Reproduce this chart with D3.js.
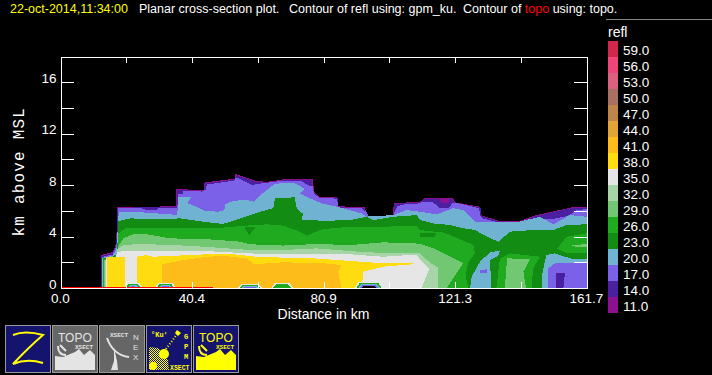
<!DOCTYPE html>
<html>
<head>
<meta charset="utf-8">
<script src="https://cdn.jsdelivr.net/npm/d3@7"></script>
<style>
  html, body { margin: 0; background: #000; overflow: hidden; }
  text { font-family: "Liberation Sans", sans-serif; }
</style>
</head>
<body>
<script>
// legend
var levels = ['59.0', '56.0', '53.0', '50.0', '47.0', '44.0', '41.0', '38.0', '35.0', '32.0', '29.0', '26.0', '23.0', '20.0', '17.0', '14.0', '11.0'];
var levelColors = ['#d0274a', '#f0457a', '#dc6080', '#a87060', '#bd8548', '#e0a535', '#fdbc1a', '#ffdc10', '#e6e6e6', '#a8d5a8', '#72c872', '#20aa20', '#128c12', '#70b2d2', '#7b60e8', '#4a1fa0', '#8c1090'];

// axis ticks
var xTicks = [0, 20.2, 40.4, 60.6, 80.9, 101.1, 121.3, 141.5, 161.7];
var xLabels = [0, 40.4, 80.9, 121.3, 161.7];
var yTicks = [0, 2, 4, 6, 8, 10, 12, 14, 16];

// contour outlines, [distance km, height km], each closed down to the ground
var top11 = [[12.4,0],[12.4,2.56],[14,2.65],[16,2.8],[16.9,3.3],[17.3,4.5],[17.3,6.3],[35.6,6.35],[35.6,7.7],[44,7.6],[44.2,8.2],[53.5,8.5],[53.8,8.85],[60,8.35],[63.4,8.25],[68.5,8.45],[77.5,8.45],[78,7.5],[79.5,7.1],[85,7.05],[85.2,6.35],[93.4,6.3],[94.6,5.6],[102.3,5.6],[102.4,6.6],[110.5,6.7],[112,7],[120.7,7],[121.3,6.66],[128.9,6.32],[129.2,5.67],[135.1,5.2],[141,5.2],[146,5.65],[157.7,6.3],[161.7,6.3],[161.7,0]];
var top14 = [[12.5,0],[12.5,2.48],[14,2.57],[16,2.72],[17,3.25],[17.5,4.5],[17.5,6.25],[35.8,6.28],[35.8,7.62],[44.2,7.52],[44.4,8.12],[53.7,8.42],[54,8.75],[60,8.27],[63.4,8.17],[68.5,8.37],[77.2,8.37],[77.8,7.45],[79.5,7.02],[85.2,6.97],[85.4,6.27],[93.2,6.22],[94.5,5.52],[102.5,5.52],[102.6,6.55],[110.5,6.62],[112,6.95],[120.5,6.95],[121.1,6.6],[129.1,6.25],[129.4,5.6],[135.1,5.12],[141,5.12],[146,5.57],[157.7,6.25],[161.7,6.25],[161.7,0]];
var top17 = [[12.7,0],[12.7,2.4],[14,2.5],[16,2.6],[17.1,3.2],[17.7,4.5],[17.7,6.2],[25,6.2],[26.5,6.05],[29.5,6.05],[30,6.2],[35.9,6.2],[36.2,7.3],[37.5,7.3],[37.8,7.55],[43.6,7.5],[44.6,7.65],[45,8.05],[53.4,8.35],[54,8.6],[57.5,8.2],[59,8],[61,8.1],[64,8.2],[68.5,8.35],[74,8.35],[76,8],[77.5,7.9],[78,7.3],[79.7,7],[85,6.95],[85.4,6.2],[92.6,6.2],[94,5.9],[95,5.5],[102.3,5.5],[102.7,5.9],[103.5,6.35],[106.5,6.55],[109,6.5],[110.5,6.6],[111.5,6.7],[114.6,6.65],[116.6,6.2],[119.2,6.2],[120.7,6.65],[124,6.5],[128.7,6.2],[129,5.6],[130,5.4],[134.6,5.1],[141,5.1],[145.5,5.4],[151,5.35],[155,5.55],[157,5.75],[158,6],[161.7,6.15],[161.7,0]];
var top20 = [[12.8,0],[12.8,2.35],[14,2.4],[16,2.5],[17.2,3],[17.9,5.9],[24,5.9],[35,5.7],[35.9,5.65],[36.2,7.05],[40.3,7.1],[39,6.6],[41.9,6.3],[44.4,6],[48.5,5.93],[50.4,6.06],[50.6,6.5],[53.1,6.78],[57.2,6.85],[59.5,6.7],[61.3,7.2],[65.9,8.1],[71.6,8.2],[75.2,7.7],[73.6,7.35],[76.7,6.97],[80.3,6.58],[85,6.32],[92.6,5.8],[94.1,5.55],[102.3,5.67],[106.4,6.06],[110.5,5.93],[115.6,5.72],[120.7,6.2],[123.8,6.06],[127.4,5.15],[135,5.1],[141,5.15],[147.4,5.54],[151.5,4.95],[156.6,5.67],[161.7,5.54],[161.7,0]];
var top23 = [[13,0],[13,2.3],[14,2.35],[16,2.4],[17.4,2.7],[17.8,5.2],[21.4,5.41],[29.6,5.36],[36.7,5.41],[43.9,5.15],[50,4.98],[55.2,5.41],[58.25,5.67],[61.3,5.93],[65.4,6.2],[65.9,6.97],[72,7.05],[72.6,6.2],[74.6,5.75],[74.1,5.28],[81.8,5.23],[89,5.28],[94.1,5.54],[96.2,5.28],[102.3,5.54],[109.5,5.67],[110.5,5.28],[114.6,5.02],[119.7,4.9],[123.8,4.64],[127.4,4.51],[131,4],[134.6,3.6],[138.2,4.38],[145.3,4.51],[151.5,4.51],[155.6,4.9],[161.7,4.95],[161.7,0]];
var top26 = [[13.2,0],[13.2,2.25],[16,2.3],[17.5,2.6],[17.8,4.25],[20.3,4.7],[29.6,4.64],[39.8,4.64],[50,4.7],[57.2,4.85],[63.4,4.95],[68.5,4.85],[73.6,4.38],[75.7,4.07],[80.8,4.6],[83.9,4.64],[89,4.77],[99.2,4.77],[109.5,4.82],[110.5,4.5],[118,4.3],[126.9,3.34],[127.4,2.7],[125.4,2],[124.5,1],[125.4,0]];
var top29 = [[13.4,0],[13.4,2.2],[16,2.25],[17.4,2.5],[17.6,3.2],[19.3,3.86],[22.4,4.18],[26.5,4.18],[33.7,3.86],[44.9,3.8],[55.2,3.6],[58.25,3.4],[68.5,3.3],[78.7,3.42],[89,3.34],[99.2,3.55],[110.5,3.45],[114.6,3.08],[123.8,1.92],[121,0.88],[118.7,0]];
var top32 = [[13.7,0],[13.7,2.2],[17,2.3],[17.5,3.03],[19.3,3.34],[24.4,3.42],[34.7,3.34],[44.9,3.2],[58.25,2.95],[68.5,2.95],[78.7,3.08],[94.1,2.77],[110.5,2.7],[113.4,2],[116,1.6],[116.1,0]];
var top35 = [[14,0],[14,2.3],[17,2.4],[17.5,2.77],[19.3,2.87],[29.6,2.87],[44.9,2.87],[58,2.69],[68.5,2.62],[89,2.62],[99.2,2.43],[109.5,2.6],[110.5,2.2],[113.4,1.53],[111,0]];
var top38 = [[14.4,0],[14.4,2.43],[23.4,2.43],[26.5,2.56],[28.5,2.43],[44.9,2.62],[53.3,2.62],[60,2.43],[68.5,2.36],[78,2.3],[92.1,2.05],[99.2,1.92],[108.5,1.92],[108.5,1.85],[99.2,1.66],[93.1,1.27],[92.6,0]];
var top41 = [[31.1,0],[31.3,1.85],[37.8,2.18],[44,2.4],[50,2.5],[57.2,2.3],[59.5,1.85],[68.5,2],[80.8,1.92],[86.4,1.79],[85.4,1.27],[86.4,0]];

// closed patches painted over the layers
var white35 = [[19.8,0],[19.8,2.4],[23.4,2.45],[23.4,0]];
var dark23a = [[56.5,4.77],[60.1,4.77],[58,4.1]];
var dark23b = [[110.5,4.25],[115.6,4.25],[115,4],[110.5,3.95]];
var purple11 = [[116.6,6.97],[119.7,6.97],[119.2,6.58],[117,6.58]];
var blueCol = [[125.9,0],[126.4,0.88],[129,2.05],[132,2.77],[135.1,2.9],[134.6,2.5],[132,2.18],[132.5,0]];
var violetDot = [[128.9,1.4],[131,1.45],[131,1.2],[129,1.2]];
var green26Col = [[134,0],[135.1,2.31],[138.2,2.69],[147.4,2.43],[145.3,1.53],[144.8,0]];
var green29Col = [[136.6,0],[137.3,2.31],[144.3,2.23],[142.3,1.27],[143.1,0]];
var blueRight = [[147.9,0],[148.2,1.27],[149.4,2.56],[152,2.69],[157.6,2.23],[161.7,2.23],[161.7,0]];
var violetRight = [[150,0],[150,1.53],[152,1.92],[161.7,1.92],[161.7,0]];
var indigoRight = [[152.3,0],[152.3,1.14],[155.1,1.2],[154.6,0]];
var green26Right = [[152.7,3.08],[155.6,3.99],[161.7,4.25],[161.7,2.69],[155.6,2.69]];
var green29Right = [[156.6,3.34],[161.7,3.4],[161.7,3.15],[158.5,3.2]];

// terrain bumps along the ground
var moundStart = [19.5, 29, 54.5, 64.8, 90.5];
var moundEnd = [25.2, 35.5, 62, 71.5, 99.2];
var moundTop = [0.42, 0.4, 0.32, 0.36, 0.5];
var moundRings = [5, 5, 4, 2, 5];

var svgWidth = 712;
var svgHeight = 375;
var margin = { top: 56.5, right: 125.5, bottom: 87, left: 60.5 };
var chartWidth = svgWidth - margin.left - margin.right;
var chartHeight = svgHeight - margin.top - margin.bottom;

var labelSize = '13.5px';

var svg = d3.select('body').append('svg')
  .attr('width', svgWidth)
  .attr('height', svgHeight)
  .style('display', 'block');

var chartGroup = svg.append('g')
  .attr('transform', `translate(${margin.left}, ${margin.top})`);

//
// scales
//

var xScale = d3.scaleLinear().domain([0, 161.7]).range([0, chartWidth]);
var yScale = d3.scaleLinear().domain([0, 18]).range([chartHeight, 0]);

function levelColor(name) {
  return levelColors[levels.indexOf(name)];
}

var outline = d3.line()
  .x(d => xScale(d[0]))
  .y(d => yScale(d[1]))
  .curve(d3.curveLinearClosed);

//
// contour fills, painted from lowest level to highest, then the patches
//

var layers = [
  [top11, '11.0'], [top14, '14.0'], [top17, '17.0'], [top20, '20.0'], [top23, '23.0'],
  [top26, '26.0'], [top29, '29.0'], [top32, '32.0'], [top35, '35.0'], [top38, '38.0'],
  [white35, '35.0'], [top41, '41.0'],
  [dark23a, '23.0'], [dark23b, '23.0'], [purple11, '11.0'],
  [blueCol, '20.0'], [violetDot, '17.0'], [green26Col, '26.0'], [green29Col, '29.0'],
  [blueRight, '20.0'], [violetRight, '17.0'], [indigoRight, '14.0'],
  [green26Right, '26.0'], [green29Right, '29.0']
];

chartGroup.selectAll('path.layer')
  .data(layers)
  .enter()
  .append('path')
  .attr('class', 'layer')
  .attr('d', d => outline(d[0]))
  .attr('fill', d => levelColor(d[1]))
  .attr('shape-rendering', 'crispEdges');

// bumps are nested rings, the biggest ones around a black core
var rings = [[0, '#e6e6e6'], [0.5, '#20aa20'], [1, '#70b2d2'], [1.5, '#7b60e8'], [2, '#000']];

moundStart.forEach(function (start, i) {
  chartGroup.selectAll(null)
    .data(rings.slice(0, moundRings[i]))
    .enter()
    .append('path')
    .attr('d', function (r) {
      var step = r[0] * 0.16;
      var top = moundTop[i] - step;
      return outline([[start + r[0], 0], [start + r[0] + 1, top], [moundEnd[i] - r[0] - 1, top], [moundEnd[i] - r[0], 0]]);
    })
    .attr('fill', r => r[1])
    .attr('shape-rendering', 'crispEdges');
});

// red topo line runs along the ground until about 47 km
chartGroup.append('line')
  .attr('x1', xScale(0))
  .attr('x2', xScale(47))
  .attr('y1', yScale(0) - 1)
  .attr('y2', yScale(0) - 1)
  .attr('stroke', '#f00')
  .attr('shape-rendering', 'crispEdges');

//
// axes
//

var tickLen = 13;

var yAxisLeft = d3.axisLeft(yScale)
  .tickValues(yTicks)
  .tickSizeInner(-tickLen)
  .tickSizeOuter(0)
  .tickPadding(4)
  .tickFormat(d => (d % 4 === 0 ? d : ''));

var yAxisRight = d3.axisRight(yScale)
  .tickValues(yTicks)
  .tickSizeInner(-tickLen)
  .tickSizeOuter(0)
  .tickFormat('');

var xAxisBottom = d3.axisBottom(xScale)
  .tickValues(xTicks)
  .tickSizeInner(-6)
  .tickSizeOuter(0)
  .tickFormat('');

var xAxisTop = d3.axisTop(xScale)
  .tickValues(xTicks)
  .tickSizeInner(-6)
  .tickSizeOuter(0)
  .tickFormat('');

var axisLeftG = chartGroup.append('g').call(yAxisLeft);
chartGroup.append('g').attr('transform', `translate(${chartWidth}, 0)`).call(yAxisRight);
chartGroup.append('g').attr('transform', `translate(0, ${chartHeight})`).call(xAxisBottom);
chartGroup.append('g').call(xAxisTop);

chartGroup.selectAll('.domain, .tick line')
  .attr('stroke', '#fff')
  .attr('shape-rendering', 'crispEdges');

// y tick labels sit with their baseline on the tick
axisLeftG.selectAll('.tick line').filter(d => d === 0).attr('stroke', 'none');
axisLeftG.selectAll('text')
  .attr('dy', 0)
  .attr('fill', '#fff')
  .attr('stroke', 'none')
  .style('font-family', '"Liberation Sans", sans-serif')
  .style('font-size', labelSize);

chartGroup.selectAll('text.xlabel')
  .data(xLabels)
  .enter()
  .append('text')
  .attr('class', 'xlabel')
  .attr('x', d => xScale(d))
  .attr('y', chartHeight + 15)
  .attr('text-anchor', 'middle')
  .attr('fill', '#fff')
  .style('font-size', labelSize)
  .text(d => d.toFixed(1));

svg.append('text')
  .attr('x', margin.left + chartWidth / 2)
  .attr('y', 319)
  .attr('text-anchor', 'middle')
  .attr('fill', '#fff')
  .style('font-size', '14px')
  .text('Distance in km');

svg.append('text')
  .attr('transform', 'translate(24, 236.5) rotate(-90)')
  .attr('fill', '#fff')
  .style('font-family', '"Liberation Mono", monospace')
  .style('font-size', '16px')
  .style('letter-spacing', '1.2px')
  .text('km above MSL');

//
// title
//

var title = svg.append('text')
  .attr('y', 13)
  .attr('fill', '#fff')
  .style('font-size', '12.5px');

title.append('tspan').attr('x', 10).attr('fill', '#ff0').text('22-oct-2014,11:34:00');
title.append('tspan').attr('x', 139).text('Planar cross-section plot.');
title.append('tspan').attr('x', 289).text('Contour of refl using: gpm_ku.');
title.append('tspan').attr('x', 463).text('Contour of ');
title.append('tspan').attr('fill', '#f00').text('topo');
title.append('tspan').text(' using: topo.');

svg.append('line')
  .attr('x1', 606).attr('x2', 712)
  .attr('y1', 19.5).attr('y2', 19.5)
  .attr('stroke', '#888');

//
// legend
//

var rowHeight = 16;

svg.append('text')
  .attr('x', 608)
  .attr('y', 37)
  .attr('fill', '#fff')
  .style('font-size', '14px')
  .text('refl');

var legendRows = svg.selectAll('g.row')
  .data(levels)
  .enter()
  .append('g')
  .attr('class', 'row')
  .attr('transform', (d, i) => `translate(608, ${41 + i * rowHeight})`);

legendRows.append('rect')
  .attr('width', 10)
  .attr('height', rowHeight)
  .attr('fill', (d, i) => levelColors[i]);

legendRows.append('text')
  .attr('x', 15)
  .attr('y', 13.5)
  .attr('fill', '#fff')
  .style('font-size', labelSize)
  .text(d => d);

//
// icon buttons under the chart
//

var navy = '#14146e';
var grey = '#666';
var iconX = [5, 52, 99, 146, 193];
var iconFill = [navy, grey, grey, navy, navy];

// dither for the GPM icon
var dither = svg.append('defs').append('pattern')
  .attr('id', 'dither')
  .attr('width', 2).attr('height', 2)
  .attr('patternUnits', 'userSpaceOnUse');
dither.append('rect').attr('width', 1).attr('height', 1).attr('fill', '#ff0');
dither.append('rect').attr('x', 1).attr('y', 1).attr('width', 1).attr('height', 1).attr('fill', '#ff0');

var icons = svg.selectAll('g.icon')
  .data(iconX)
  .enter()
  .append('g')
  .attr('class', 'icon')
  .attr('transform', d => `translate(${d}, 325)`);

icons.append('rect')
  .attr('x', 0.5).attr('y', 0.5)
  .attr('width', 45).attr('height', 47)
  .attr('fill', (d, i) => iconFill[i])
  .attr('stroke', '#999');

function iconText(g, str, x, y, size, color, mono) {
  g.append('text')
    .attr('x', x).attr('y', y)
    .attr('fill', color)
    .style('font-family', mono ? '"Liberation Mono", monospace' : '"Liberation Sans", sans-serif')
    .style('font-weight', mono ? 'bold' : 'normal')
    .style('font-size', size + 'px')
    .text(str);
}

function topoIcon(g, color) {
  iconText(g, 'TOPO', 6, 17, 12, color, false);
  iconText(g, 'XSECT', 23, 24, 6, color, true);
  g.append('path')
    .attr('d', 'M3,45 V31 L11,32 L23,27 L27,24 L32,30 L38,25 L43,30 V45 Z')
    .attr('fill', color);
  g.append('path')
    .attr('d', 'M6,21 Q6,30 14,30 M8,20 L14,26')
    .attr('fill', 'none')
    .attr('stroke', color)
    .attr('stroke-width', 2);
}

// Z
d3.select(icons.nodes()[0]).append('path')
  .attr('d', 'M8,10 Q20,5 38,10 Q24,22 8,39 Q22,33 38,38')
  .attr('fill', 'none')
  .attr('stroke', '#ff0')
  .attr('stroke-width', 2);

topoIcon(d3.select(icons.nodes()[1]), '#e4e4e4');
topoIcon(d3.select(icons.nodes()[4]), '#ff0');

// NEX dish
var nex = d3.select(icons.nodes()[2]);
iconText(nex, 'XSECT', 11, 12, 6, '#e4e4e4', true);
iconText(nex, 'N', 34, 15, 8, '#e4e4e4', false);
iconText(nex, 'E', 34, 25, 8, '#e4e4e4', false);
iconText(nex, 'X', 34, 35, 8, '#e4e4e4', false);
nex.append('path')
  .attr('d', 'M8,13 Q14,30 30,32')
  .attr('fill', 'none')
  .attr('stroke', '#e4e4e4')
  .attr('stroke-width', 2);
nex.append('path')
  .attr('d', 'M15,23 L15,36 L12,45 H19 L18,36 Z')
  .attr('fill', '#e4e4e4');

// GPM satellite
var gpm = d3.select(icons.nodes()[3]);
iconText(gpm, '\u00b0Ku\'', 5, 12, 7, '#ff0', true);
iconText(gpm, 'G', 38, 14, 7, '#ff0', true);
iconText(gpm, 'P', 38, 24, 7, '#ff0', true);
iconText(gpm, 'M', 38, 34, 7, '#ff0', true);
iconText(gpm, 'XSECT', 24, 45, 6.5, '#ff0', true);
gpm.append('path')
  .attr('d', 'M3,45 V22 L12,23 L22,35 L23,45 Z')
  .attr('fill', 'url(#dither)');
gpm.append('circle').attr('cx', 18).attr('cy', 29).attr('r', 5).attr('fill', '#ff0');
gpm.append('circle').attr('cx', 7).attr('cy', 41).attr('r', 4).attr('fill', '#ff0');
gpm.append('path')
  .attr('d', 'M20,24 L32,8')
  .attr('stroke', '#ff0')
  .attr('stroke-dasharray', '1 2')
  .attr('stroke-width', 2);
gpm.append('path')
  .attr('d', 'M31,5 L35,8 L32,11 L29,8 Z')
  .attr('fill', '#ff0');
</script>
</body>
</html>
